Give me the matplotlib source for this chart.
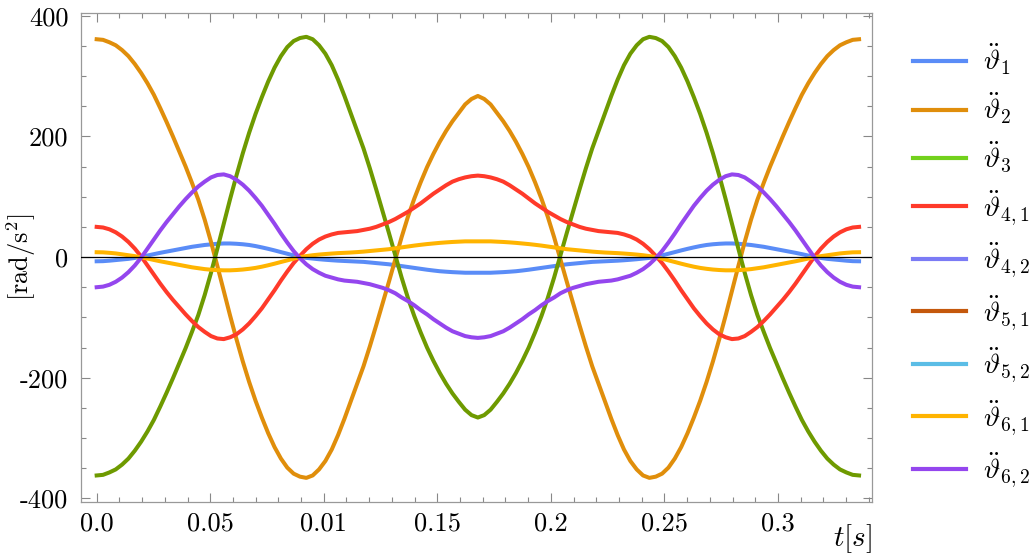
import matplotlib
matplotlib.use("Agg")
import matplotlib.pyplot as plt
import matplotlib.ticker as mticker
from matplotlib.lines import Line2D
import numpy as np

plt.rcParams["mathtext.fontset"] = "cm"

t = np.linspace(0.0, 0.3357, 121)

th1 = [-7, -6.8, -6, -5, -4, -3, -1.5, 0.5, 2.5, 4.8, 7, 9, 11, 13, 15, 17, 18.5,
       20, 21, 22, 22.5, 22.5, 22, 21.2, 20, 18.2, 16, 13.6, 11, 8.2, 5.5, 2.7,
       0, -1.4, -2.5, -3.6, -4.5, -5.3, -6, -6.5, -7, -7.5, -8, -9, -10, -11,
       -12, -13.5, -15, -16.5, -18, -19.5, -21, -22.3, -23.5, -24.3, -25, -25.5,
       -26, -26, -26,
       -26, -26, -25.5, -25, -24.3, -23.5, -22.3, -21, -19.5, -18, -16.5, -15,
       -13.5, -12, -11, -10, -9, -8, -7.5, -7, -6.5, -6, -5.3, -4.5, -3.6,
       -2.5, -1.4, 0, 2.7, 5.5, 8.2, 11, 13.6, 16, 18.2, 20, 21.2, 22, 22.5,
       22.5, 22, 21, 20, 18.5, 17, 15, 13, 11, 9, 7, 4.8, 2.5, 0.5, -1.5, -3,
       -4, -5, -6, -6.8, -7]
th2 = [361, 360, 356, 351, 343, 333, 320, 305, 288, 269, 247, 224, 200, 175,
       150, 123, 95, 62, 25, -15, -56, -97, -136, -173, -207, -238, -266, -292,
       -315, -334, -349, -359, -364, -366, -362, -352, -338, -319, -295, -268,
       -239, -210, -181, -148, -113, -77, -41, -4, 33, 67, 97, 124, 149, 171,
       191, 209, 225, 239, 253, 262, 267,
       262, 253, 239, 225, 209, 191, 171, 149, 124, 97, 67, 33, -4, -41, -77,
       -113, -148, -181, -210, -239, -268, -295, -319, -338, -352, -362, -366,
       -364, -359, -349, -334, -315, -292, -266, -238, -207, -173, -136, -97,
       -56, -15, 25, 62, 95, 123, 150, 175, 200, 224, 247, 269, 288, 305, 320,
       333, 343, 351, 356, 360, 361]
th3 = [-362, -361, -357, -352, -344, -334, -321, -306, -289, -270, -248, -225,
       -201, -176, -151, -124, -96, -63, -26, 14, 55, 96, 135, 172, 206, 237,
       265, 291, 314, 333, 348, 358, 363, 365, 361, 351, 337, 318, 294, 267,
       238, 209, 180, 147, 112, 76, 40, 3, -34, -68, -98, -125, -150, -172,
       -192, -210, -226, -240, -253, -262, -266,
       -262, -253, -240, -226, -210, -192, -172, -150, -125, -98, -68, -34, 3,
       40, 76, 112, 147, 180, 209, 238, 267, 294, 318, 337, 351, 361, 365, 363,
       358, 348, 333, 314, 291, 265, 237, 206, 172, 135, 96, 55, 14, -26, -63,
       -96, -124, -151, -176, -201, -225, -248, -270, -289, -306, -321, -334,
       -344, -352, -357, -361, -362]
th41 = [50, 49, 46, 41, 34, 25, 14, 1, -14, -29, -44, -58, -71, -83, -95, -106,
        -116, -124, -131, -135, -136, -133, -128, -120, -110, -98, -85, -70,
        -55, -39, -24, -10, 2, 13, 22, 29, 34, 37.5, 40, 41, 42, 43, 45, 47, 50,
        54, 58, 63, 69, 75, 82, 89, 97, 105, 112, 119, 125, 129, 132, 134, 135,
        134, 132, 129, 125, 119, 112, 105, 97, 89, 82, 75, 69, 63, 58, 54, 50,
        47, 45, 43, 42, 41, 40, 37.5, 34, 29, 22, 13, 2, -10, -24, -39, -55,
        -70, -85, -98, -110, -120, -128, -133, -136, -135, -131, -124, -116,
        -106, -95, -83, -71, -58, -44, -29, -14, 1, 14, 25, 34, 41, 46, 49, 50]
th61 = [8, 7.8, 7, 6, 4.5, 3, 1.5, -0.5, -2.5, -4.8, -7, -9, -11, -13, -15,
        -17, -18.5, -20, -21, -21.7, -22, -22, -21.5, -20.7, -19.5, -18, -16,
        -13.6, -11, -8.2, -5.5, -2.7, 0, 1.6, 3, 4.1, 5, 5.8, 6.5, 7, 7.5, 8.2,
        9, 10, 11, 12, 13, 14.5, 16, 17.5, 19, 20.3, 21.5, 22.5, 23.5, 24.3, 25,
        25.5, 26, 26, 26,
        26, 26, 25.5, 25, 24.3, 23.5, 22.5, 21.5, 20.3, 19, 17.5, 16, 14.5, 13,
        12, 11, 10, 9, 8.2, 7.5, 7, 6.5, 5.8, 5, 4.1, 3, 1.6, 0, -2.7, -5.5,
        -8.2, -11, -13.6, -16, -18, -19.5, -20.7, -21.5, -22, -22, -21.7, -21,
        -20, -18.5, -17, -15, -13, -11, -9, -7, -4.8, -2.5, -0.5, 1.5, 3, 4.5,
        6, 7, 7.8, 8]
th62 = [-50, -49, -46, -41, -34, -25, -14, -1, 14, 29, 44, 58, 71, 84, 96, 107,
        117, 125, 132, 136, 137, 134, 128, 120, 110, 98, 85, 70, 55, 39, 24, 10,
        -2, -12, -20, -26, -31, -34, -37, -39, -40, -41, -43, -45, -48, -51,
        -55, -60, -67, -73, -80, -88, -95, -103, -110, -117, -123, -127, -131,
        -133, -134,
        -133, -131, -127, -123, -117, -110, -103, -95, -88, -80, -73, -67, -60,
        -55, -51, -48, -45, -43, -41, -40, -39, -37, -34, -31, -26, -20, -12,
        -2, 10, 24, 39, 55, 70, 85, 98, 110, 120, 128, 134, 137, 136, 132, 125,
        117, 107, 96, 84, 71, 58, 44, 29, 14, -1, -14, -25, -34, -41, -46, -49,
        -50]

x_ticks = [0.0, 0.05, 0.10, 0.15, 0.20, 0.25, 0.30]
x_tick_labels = ["0.0", "0.05", "0.01", "0.15", "0.2", "0.25", "0.3"]
y_ticks = [-400, -200, 0, 200, 400]
y_tick_labels = ["-400", "-200", "0", "200", "400"]

# label, values (None = hidden under other curves), line colour, legend colour
series = [
    (r"$\ddot{\vartheta}_1$",     th1,  "#5a8cf7", "#5a8cf7"),
    (r"$\ddot{\vartheta}_2$",     th2,  "#e08e0b", "#e08e0b"),
    (r"$\ddot{\vartheta}_3$",     th3,  "#6e9a00", "#72d11c"),
    (r"$\ddot{\vartheta}_{4,1}$", th41, "#ff3a2a", "#ff3a2a"),
    (r"$\ddot{\vartheta}_{4,2}$", None, "#7b7bf5", "#7b7bf5"),
    (r"$\ddot{\vartheta}_{5,1}$", None, "#c4580c", "#c4580c"),
    (r"$\ddot{\vartheta}_{5,2}$", None, "#5bbde6", "#5bbde6"),
    (r"$\ddot{\vartheta}_{6,1}$", th61, "#ffb400", "#ffb400"),
    (r"$\ddot{\vartheta}_{6,2}$", th62, "#9446ee", "#9446ee"),
]

# ── Plot ─────────────────────────────────────────────────────────────────────
LW = 2.9
FS = 19

fig = plt.figure(figsize=(10.30, 5.56), dpi=100)
ax = fig.add_axes([81 / 1030, 54.3 / 556, 791 / 1030, 489 / 556])

handles = []
for label, vals, col, lcol in series:
    if vals is not None:
        ax.plot(t, vals, color=col, lw=LW, solid_joinstyle="round", zorder=3)
    handles.append(Line2D([], [], color=lcol, lw=3.0, label=label))

ax.axhline(0, color="black", lw=0.9, zorder=4)

ax.set_xlim(-0.0069, 0.3414)
ax.set_ylim(-405.5, 405)

ax.set_xticks(x_ticks)
ax.set_xticklabels(x_tick_labels, fontfamily="cmr10", fontsize=FS)
ax.set_yticks(y_ticks)
ax.set_yticklabels(y_tick_labels, fontfamily="cmr10", fontsize=FS)
ax.xaxis.set_minor_locator(mticker.MultipleLocator(0.01))
ax.yaxis.set_minor_locator(mticker.MultipleLocator(50))

ax.tick_params(which="both", direction="in", top=True, right=True,
               color="#888888", width=0.8)
ax.tick_params(which="major", length=6.5)
ax.tick_params(which="minor", length=3.6)
ax.tick_params(axis="y", which="major", pad=9)
ax.tick_params(axis="x", which="major", pad=7)
for sp in ax.spines.values():
    sp.set_color("#999999")
    sp.set_linewidth(0.9)

ax.set_ylabel(r"$[\mathrm{rad}/\mathrm{s}^2]$", fontsize=FS, va="center")
ax.yaxis.set_label_coords(-0.0759, 0.5)
ax.set_xlabel(r"$t[s]$", fontsize=FS + 2, va="center")
ax.xaxis.set_label_coords(0.975, -0.0757)

fig.legend(handles=handles, loc="upper left",
           bbox_to_anchor=(902 / 1030, 1 - 31 / 556),
           frameon=False, fontsize=FS + 1, handlelength=1.9,
           handletextpad=0.6, labelspacing=0.49, borderaxespad=0)

fig.savefig("out.png", dpi=100)
